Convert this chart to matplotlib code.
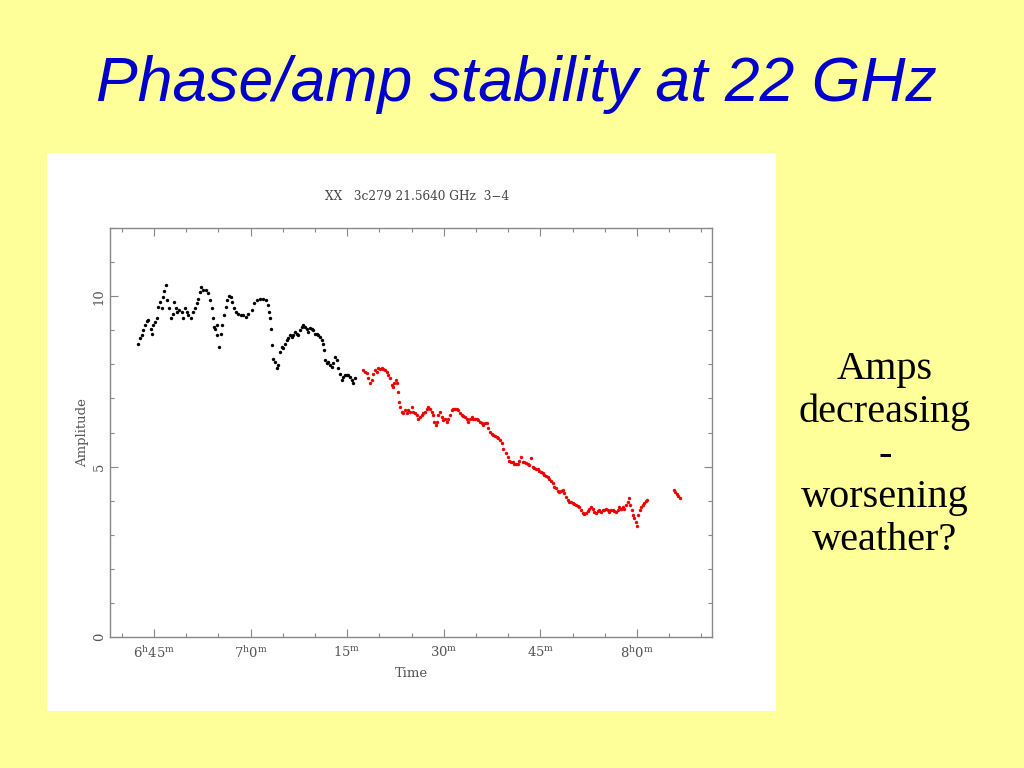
import matplotlib
matplotlib.use("Agg")
import matplotlib.pyplot as plt
from matplotlib.patches import Rectangle
from matplotlib.ticker import MultipleLocator, FixedLocator

# ---- data: time in minutes after 6h00, amplitude ----
black_t = [42.56, 42.83, 43.09, 43.34, 43.60, 43.87, 44.11, 44.49, 44.64, 44.89,
           45.16, 45.42, 45.67, 45.93, 46.20, 46.44, 46.60, 46.82, 47.07, 47.38,
           47.59, 47.90, 48.15, 48.42, 48.62, 48.93, 49.30, 49.55, 49.81, 50.08,
           50.33, 50.70, 51.01, 51.37, 51.63, 51.88, 52.14, 52.30, 52.66, 53.07,
           53.43, 53.70, 53.96, 54.11, 54.32, 54.47, 54.74, 54.83, 55.09, 55.36,
           55.61, 55.87, 56.13, 56.38, 56.65, 56.91, 57.16, 57.42, 57.73, 58.09,
           58.46, 58.87, 59.29, 59.64, 60.17, 60.57, 60.95, 61.46, 61.97, 62.34,
           62.66, 62.86, 63.01, 63.17, 63.37, 63.52, 63.79, 64.05, 64.30, 64.57,
           64.83, 65.08, 65.34, 65.61, 65.85, 66.12, 66.38, 66.63, 66.89, 67.16,
           67.41, 67.67, 67.93, 68.18, 68.45, 68.71, 68.96, 69.22, 69.49, 69.74,
           70.00, 70.26, 70.51, 70.78, 71.04, 71.29, 71.44, 71.55, 71.82, 72.07,
           72.33, 72.59, 72.84, 73.11, 73.37, 73.62, 73.88, 74.15, 74.39, 74.66,
           74.92, 75.17, 75.43, 75.70, 75.95, 76.21]
black_amp = [8.61, 8.76, 8.86, 9.00, 9.15, 9.27, 9.30, 9.05, 8.90, 9.15,
             9.25, 9.35, 9.69, 9.83, 9.66, 9.98, 10.15, 10.32, 9.88, 9.64,
             9.35, 9.49, 9.83, 9.64, 9.54, 9.59, 9.54, 9.35, 9.64, 9.54,
             9.44, 9.35, 9.54, 9.64, 9.79, 9.93, 10.13, 10.27, 10.18, 10.18,
             10.08, 9.88, 9.64, 9.35, 9.10, 9.05, 9.15, 8.86, 8.51, 8.90,
             9.15, 9.44, 9.69, 9.88, 10.01, 9.98, 9.83, 9.64, 9.54, 9.49,
             9.44, 9.46, 9.39, 9.49, 9.59, 9.79, 9.88, 9.91, 9.91, 9.88,
             9.74, 9.54, 9.35, 9.05, 8.56, 8.17, 8.07, 7.88, 7.98, 8.37,
             8.51, 8.47, 8.61, 8.71, 8.76, 8.86, 8.81, 8.86, 8.95, 8.90,
             8.86, 9.00, 9.10, 9.15, 9.10, 9.05, 8.95, 9.07, 9.05, 9.00,
             8.90, 8.90, 8.86, 8.81, 8.71, 8.61, 8.42, 8.12, 8.03, 8.07,
             7.98, 7.93, 8.03, 8.22, 8.12, 7.88, 7.73, 7.54, 7.63, 7.68,
             7.70, 7.68, 7.63, 7.54, 7.44, 7.59]

red_t = [77.50, 77.76, 78.03, 78.28, 78.54, 78.80, 79.05, 79.32, 79.58, 79.83,
         80.09, 80.36, 80.61, 80.87, 81.13, 81.38, 81.65, 81.91, 82.16, 82.31,
         82.53, 82.69, 82.84, 83.04, 83.20, 83.46, 83.71, 83.98, 84.24, 84.49,
         84.75, 85.02, 85.26, 85.53, 85.79, 86.04, 86.30, 86.57, 86.82, 87.08,
         87.34, 87.59, 87.86, 88.12, 88.37, 88.53, 88.74, 88.90, 89.15, 89.41,
         89.67, 89.92, 90.19, 90.45, 90.70, 90.96, 91.23, 91.48, 91.74, 92.00,
         92.25, 92.52, 92.78, 93.03, 93.29, 93.56, 93.80, 94.07, 94.33, 94.58,
         94.84, 95.11, 95.36, 95.62, 95.88, 96.13, 96.40, 96.66, 96.91, 97.17,
         97.44, 97.69, 97.95, 98.21, 98.46, 98.73, 98.99, 99.24, 99.71, 99.92,
         100.17, 100.43, 100.70, 100.95, 101.21, 101.48, 101.72, 101.99, 102.25, 102.50,
         102.76, 103.03, 103.28, 103.54, 103.80, 104.05, 104.32, 104.58, 104.83, 105.09,
         105.36, 105.61, 105.87, 106.13, 106.38, 106.65, 106.91, 107.16, 107.42, 107.69,
         107.94, 108.20, 108.46, 108.71, 108.98, 109.24, 109.49, 109.75, 110.02, 110.26,
         110.53, 110.79, 111.04, 111.30, 111.57, 111.82, 112.08, 112.34, 112.59, 112.86,
         113.12, 113.37, 113.63, 113.90, 114.15, 114.41, 114.67, 114.92, 115.19, 115.45,
         115.70, 115.96, 116.23, 116.48, 116.74, 117.00, 117.25, 117.52, 117.78, 118.03,
         118.29, 118.56, 118.80, 118.96, 119.18, 119.38, 119.58, 119.80, 120.00, 120.20,
         120.42, 120.62, 120.88, 121.13, 121.40, 121.55,
         125.70, 125.93, 126.16, 126.40, 126.63]
red_amp = [7.83, 7.78, 7.75, 7.59, 7.44, 7.54, 7.73, 7.83, 7.78, 7.88,
           7.85, 7.88, 7.85, 7.83, 7.78, 7.68, 7.59, 7.39, 7.34, 7.44,
           7.54, 7.44, 7.19, 6.90, 6.75, 6.61, 6.56, 6.66, 6.56, 6.66,
           6.61, 6.75, 6.61, 6.56, 6.51, 6.41, 6.46, 6.51, 6.56, 6.61,
           6.68, 6.75, 6.70, 6.61, 6.51, 6.31, 6.22, 6.31, 6.51, 6.61,
           6.46, 6.36, 6.41, 6.31, 6.41, 6.51, 6.66, 6.68, 6.68, 6.69,
           6.66, 6.58, 6.51, 6.48, 6.46, 6.41, 6.31, 6.41, 6.46, 6.41,
           6.41, 6.41, 6.36, 6.31, 6.27, 6.22, 6.27, 6.27, 6.12, 6.02,
           5.95, 5.92, 5.89, 5.87, 5.83, 5.78, 5.68, 5.53, 5.39, 5.29,
           5.17, 5.14, 5.12, 5.09, 5.07, 5.09, 5.17, 5.27, 5.14, 5.14,
           5.11, 5.09, 5.04, 5.24, 5.00, 4.95, 4.92, 4.92, 4.88, 4.85,
           4.80, 4.75, 4.72, 4.68, 4.65, 4.58, 4.51, 4.41, 4.36, 4.29,
           4.26, 4.29, 4.31, 4.23, 4.11, 4.02, 3.97, 3.97, 3.94, 3.90,
           3.87, 3.84, 3.80, 3.72, 3.65, 3.61, 3.63, 3.70, 3.77, 3.82,
           3.77, 3.67, 3.63, 3.70, 3.72, 3.67, 3.72, 3.74, 3.77, 3.72,
           3.67, 3.74, 3.72, 3.70, 3.67, 3.72, 3.80, 3.77, 3.82, 3.77,
           3.87, 3.97, 4.07, 3.87, 3.72, 3.58, 3.48, 3.38, 3.26, 3.58,
           3.72, 3.80, 3.87, 3.94, 3.99, 4.02,
           4.30, 4.26, 4.20, 4.14, 4.09]

xtick_pos = [45, 60, 75, 90, 105, 120]
xtick_labels = [r'$6^{\rm h}45^{\rm m}$', r'$7^{\rm h}0^{\rm m}$', r'$15^{\rm m}$',
                r'$30^{\rm m}$', r'$45^{\rm m}$', r'$8^{\rm h}0^{\rm m}$']
ytick_pos = [0, 5, 10]
ytick_labels = ['0', '5', '10']

plot_title = 'XX   3c279 21.5640 GHz  3\u22124'
slide_title = 'Phase/amp stability at 22 GHz'
side_text = 'Amps\ndecreasing\n-\nworsening\nweather?'

plt.rcParams['mathtext.fontset'] = 'dejavuserif'

fig = plt.figure(figsize=(10.24, 7.68), dpi=100)
fig.patch.set_facecolor('#FFFF99')

# white panel holding the plot
fig.patches.append(Rectangle((47 / 1024, 1 - 711 / 768), 729 / 1024, 558 / 768,
                             transform=fig.transFigure, facecolor='white',
                             edgecolor='none', zorder=-10))

ax = fig.add_axes([110 / 1024, 1 - 637 / 768, 602 / 1024, 409 / 768])
ax.set_zorder(5)
ax.set_facecolor('white')
ax.scatter(black_t, black_amp, s=6, color='black', linewidths=0)
ax.scatter(red_t, red_amp, s=6, color='#ee0000', linewidths=0)

ax.set_xlim(38.17, 131.65)
ax.set_ylim(0, 12)

gray = '#888888'
txt = '#555555'
for sp in ax.spines.values():
    sp.set_color(gray)
    sp.set_linewidth(1.0)

ax.xaxis.set_major_locator(FixedLocator(xtick_pos))
ax.set_xticklabels(xtick_labels)
ax.xaxis.set_minor_locator(MultipleLocator(5))
ax.yaxis.set_major_locator(FixedLocator(ytick_pos))
ax.set_yticklabels(ytick_labels, rotation=90, va='center')
ax.yaxis.set_minor_locator(MultipleLocator(1))

ax.tick_params(which='both', direction='in', top=True, right=True,
               colors=gray, labelcolor=txt, labelsize=9.5)
ax.tick_params(which='major', length=6, width=0.8)
ax.tick_params(which='minor', length=3, width=0.8)
ax.tick_params(axis='x', pad=6)
ax.tick_params(axis='y', pad=3)
for lab in ax.get_xticklabels() + ax.get_yticklabels():
    lab.set_family('DejaVu Serif')

ax.set_xlabel('Time', fontsize=9.5, family='DejaVu Serif', color=txt, labelpad=4)
ax.set_ylabel('Amplitude', fontsize=9.5, family='DejaVu Serif', color=txt, labelpad=3)

fig.text(417 / 1024, 1 - 197 / 768, plot_title, ha='center', va='center',
         fontsize=8.7, family='DejaVu Serif', color='#444444')

fig.text(516 / 1024, 1 - 84 / 768, slide_title, ha='center', va='center',
         fontsize=45, family='Liberation Sans', style='italic', color='#0000CC')

fig.text(885 / 1024, 1 - 455 / 768, side_text, ha='center', va='center',
         fontsize=29, family='Liberation Serif', color='black', linespacing=1.2)

fig.savefig('out.png', dpi=100, facecolor=fig.get_facecolor())
